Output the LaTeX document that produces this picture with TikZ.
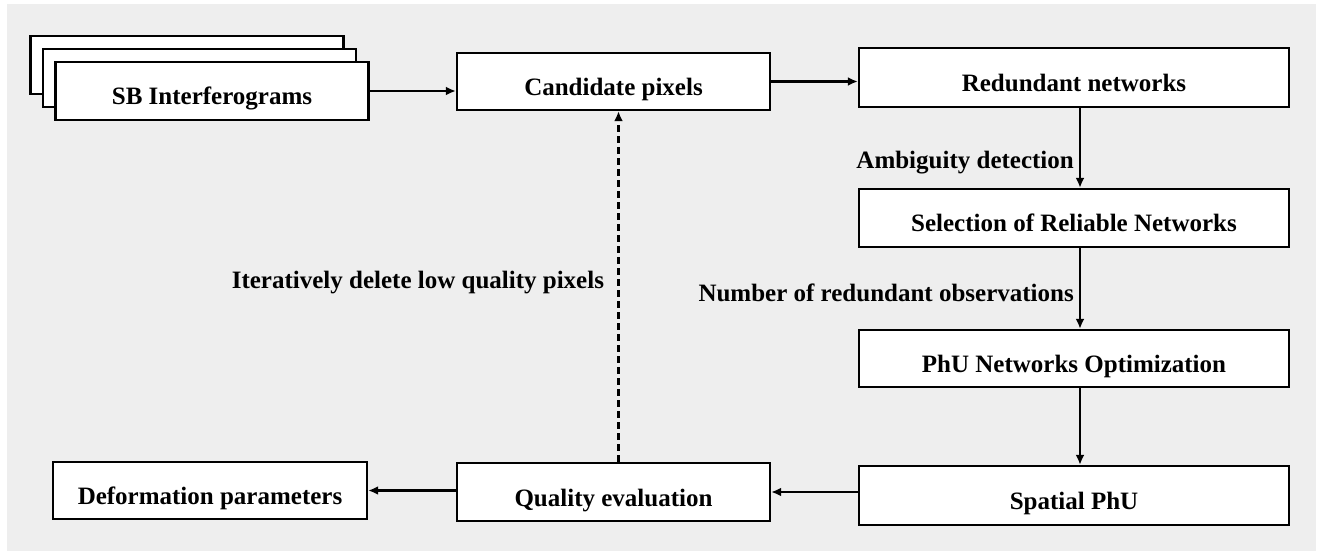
\documentclass[tikz,border=0pt]{standalone}
\usepackage{fontspec}
\setmainfont{Liberation Serif}
\usetikzlibrary{arrows.meta}
\definecolor{bggray}{HTML}{EEEEEE}
\begin{document}
\begin{tikzpicture}[x=1pt, y=-1pt,
    font=\fontsize{25}{30}\selectfont\bfseries,
    box/.style={draw=black, line width=2.4pt, fill=white, inner sep=0pt,
        text height=28pt, text depth=0pt},
    wide/.style={box, minimum width=430pt, minimum height=58pt},
    narrow/.style={box, minimum width=313pt, minimum height=58pt},
    flow/.style={line width=2.4pt, -{Latex[length=10pt, width=9pt]}},
    note/.style={inner sep=5pt}]
    \useasboundingbox (0,0) rectangle (1324,553);
    \fill[bggray] (7,4) rectangle (1316,551);
    \node[narrow] (sbback) at (187,65) {};
    \node[narrow] (sbmid) at (199.5,78) {};
    \node[narrow] (sb) at (212,91) {SB Interferograms};
    \node[narrow, minimum height=57pt] (cand) at (613.5,81.5) {Candidate pixels};
    \node[wide, minimum height=59pt] (rn) at (1074,77.5) {Redundant networks};
    \node[wide] (sel) at (1074,218) {Selection of Reliable Networks};
    \node[wide, minimum height=57pt] (opt) at (1074,358.5) {PhU Networks Optimization};
    \node[wide, minimum height=59pt] (sp) at (1074,495.5) {Spatial PhU};
    \node[narrow] (qe) at (613.5,492) {Quality evaluation};
    \node[narrow, minimum width=314pt, minimum height=57pt] (dp) at (210,490.5) {Deformation parameters};
    \draw[flow] (sb.east) -- (sb.east -| cand.west);
    \draw[flow] (cand.east) -- (cand.east -| rn.west);
    \draw[flow] ([xshift=6pt]rn.south) -- node[note, left, pos=.68] {Ambiguity detection} ([xshift=6pt]sel.north);
    \draw[flow] ([xshift=6pt]sel.south) -- node[note, left, pos=.55] {Number of redundant observations} ([xshift=6pt]opt.north);
    \draw[flow] ([xshift=6pt]opt.south) -- ([xshift=6pt]sp.north);
    \draw[flow] (sp.west |- qe.east) -- (qe.east);
    \draw[flow] (qe.west |- dp.east) -- (dp.east);
    \draw[flow, dash pattern=on 7pt off 4pt] ([xshift=5pt]qe.north) -- node[left=10pt, pos=.51] {Iteratively delete low quality pixels} ([xshift=5pt]cand.south);
\end{tikzpicture}
\end{document}
